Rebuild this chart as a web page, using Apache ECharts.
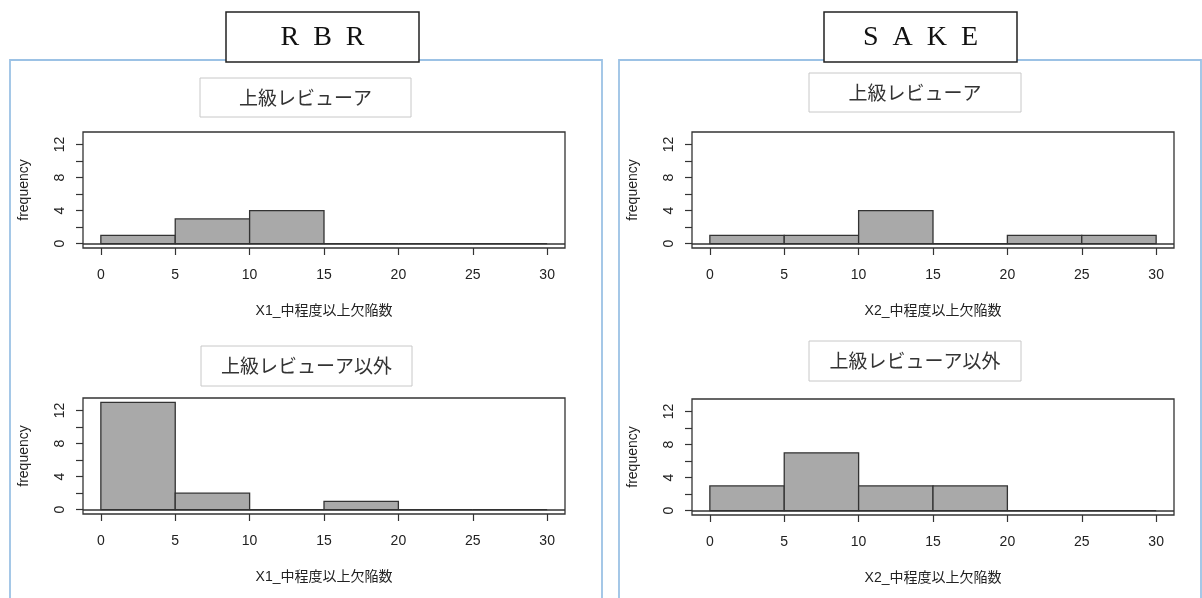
<!DOCTYPE html>
<html>
<head>
<meta charset="utf-8">
<script src="https://cdn.jsdelivr.net/npm/echarts@6/dist/echarts.min.js"></script>
<style>
  html, body { margin: 0; padding: 0; background: #fff; }
  #chart { width: 1202px; height: 598px; }
</style>
</head>
<body>
<div id="chart"></div>
<script>
// Histogram bins (width 5) and counts per bin
const binEdges = [0, 5, 10, 15, 20, 25, 30];
const rbrAdvanced = [1, 3, 4, 0, 0, 0];
const rbrOther = [13, 2, 0, 1, 0, 0];
const sakeAdvanced = [1, 1, 4, 0, 1, 1];
const sakeOther = [3, 7, 3, 3, 0, 0];

// Axis ticks and labels
const xTicks = [0, 5, 10, 15, 20, 25, 30];
const yTicks = [0, 2, 4, 6, 8, 10, 12];
const yLabels = [0, 4, 8, 12];

// Text
const toolNames = ['R  B  R', 'S  A  K  E'];
const groupNames = ['上級レビューア', '上級レビューア以外'];
const xTitles = ['X1_中程度以上欠陥数', 'X2_中程度以上欠陥数'];
const yTitle = 'frequency';

const panels = [
  { counts: rbrAdvanced, xTitle: xTitles[0], left: 83, top: 132 },
  { counts: rbrOther, xTitle: xTitles[0], left: 83, top: 398 },
  { counts: sakeAdvanced, xTitle: xTitles[1], left: 692, top: 132 },
  { counts: sakeOther, xTitle: xTitles[1], left: 692, top: 399 }
];

const ink = '#222';
const sansFont = '"Liberation Sans", Arial, sans-serif';
const cjkFont = '"Liberation Sans", "Noto Sans CJK JP", sans-serif';

function binRows(counts) {
  return counts.map((c, i) => [binEdges[i], binEdges[i + 1], c]);
}

function renderBin(params, api) {
  const x0 = api.value(0), x1 = api.value(1), c = api.value(2);
  const p0 = api.coord([x0, c]);
  const p1 = api.coord([x1, 0]);
  return {
    type: 'rect',
    shape: { x: p0[0], y: p0[1], width: p1[0] - p0[0], height: p1[1] - p0[1] },
    style: { fill: '#a9a9a9', stroke: '#333', lineWidth: 1.3 }
  };
}

const grids = [], xAxes = [], yAxes = [], series = [];
panels.forEach((p, i) => {
  grids.push({
    left: p.left, top: p.top, width: 482, height: 116,
    show: true, borderColor: '#333', borderWidth: 1.3, backgroundColor: 'transparent',
    containLabel: false, outerBoundsMode: 'none'
  });
  xAxes.push({
    type: 'value', gridIndex: i, min: -1.2, max: 31.2, position: 'bottom',
    axisLine: { show: false, onZero: false },
    splitLine: { show: false },
    axisTick: { show: true, inside: false, customValues: xTicks, length: 7, lineStyle: { color: '#333', width: 1.2 } },
    axisLabel: { customValues: xTicks, margin: 20, color: ink, fontSize: 14, fontFamily: sansFont },
    name: p.xTitle, nameLocation: 'middle', nameGap: 56,
    nameTextStyle: { color: ink, fontSize: 14, fontFamily: cjkFont }
  });
  yAxes.push({
    type: 'value', gridIndex: i, min: -0.52, max: 13.52, position: 'left',
    axisLine: { show: false, onZero: false },
    splitLine: { show: false },
    axisTick: { show: true, inside: false, customValues: yTicks, length: 7, lineStyle: { color: '#333', width: 1.2 } },
    axisLabel: { customValues: yLabels, rotate: 90, margin: 16, color: ink, fontSize: 14, fontFamily: sansFont },
    name: yTitle, nameLocation: 'middle', nameGap: 52, nameRotate: 90,
    nameTextStyle: { color: ink, fontSize: 14, fontFamily: sansFont }
  });
  series.push({
    type: 'custom', xAxisIndex: i, yAxisIndex: i,
    data: binRows(p.counts),
    encode: { x: [0, 1], y: 2 },
    renderItem: renderBin,
    silent: true,
    markLine: {
      silent: true, symbol: 'none', label: { show: false },
      lineStyle: { color: '#333', width: 1.5, type: 'solid' },
      data: [{ yAxis: 0 }]
    }
  });
});

// Column frames, tool title boxes and group caption boxes
const frameBlue = '#9cc2e5';
const graphic = [
  { type: 'rect', shape: { x: 10, y: 60, width: 592, height: 560 }, style: { fill: 'none', stroke: frameBlue, lineWidth: 1.8 }, z: 1 },
  { type: 'rect', shape: { x: 619, y: 60, width: 582, height: 560 }, style: { fill: 'none', stroke: frameBlue, lineWidth: 1.8 }, z: 1 }
];
const titleBoxes = [
  { x: 226, y: 12, w: 193, h: 50, text: toolNames[0] },
  { x: 824, y: 12, w: 193, h: 50, text: toolNames[1] }
];
titleBoxes.forEach(b => {
  graphic.push({ type: 'rect', shape: { x: b.x, y: b.y, width: b.w, height: b.h }, style: { fill: '#fff', stroke: '#222', lineWidth: 1.5 }, z: 5 });
  graphic.push({ type: 'text', x: b.x + b.w / 2, y: b.y + b.h / 2 + 1, style: { text: b.text, fill: '#111', font: '28px "Liberation Serif", "DejaVu Serif", serif', align: 'center', verticalAlign: 'middle' }, z: 6 });
});
const captionBoxes = [
  { x: 200, y: 78, w: 211, h: 39, text: groupNames[0] },
  { x: 201, y: 346, w: 211, h: 40, text: groupNames[1] },
  { x: 809, y: 73, w: 212, h: 39, text: groupNames[0] },
  { x: 809, y: 341, w: 212, h: 40, text: groupNames[1] }
];
captionBoxes.forEach(b => {
  graphic.push({ type: 'rect', shape: { x: b.x, y: b.y, width: b.w, height: b.h }, style: { fill: '#fff', stroke: '#c8c8c8', lineWidth: 1 }, z: 5 });
  graphic.push({ type: 'text', x: b.x + b.w / 2, y: b.y + b.h / 2, style: { text: b.text, fill: '#333', font: '19px "Noto Sans CJK JP", sans-serif', align: 'center', verticalAlign: 'middle' }, z: 6 });
});

const chart = echarts.init(document.getElementById('chart'), null, { renderer: 'canvas' });
chart.setOption({
  backgroundColor: '#fff',
  animation: false,
  grid: grids,
  xAxis: xAxes,
  yAxis: yAxes,
  series: series,
  graphic: graphic
});
</script>
</body>
</html>
